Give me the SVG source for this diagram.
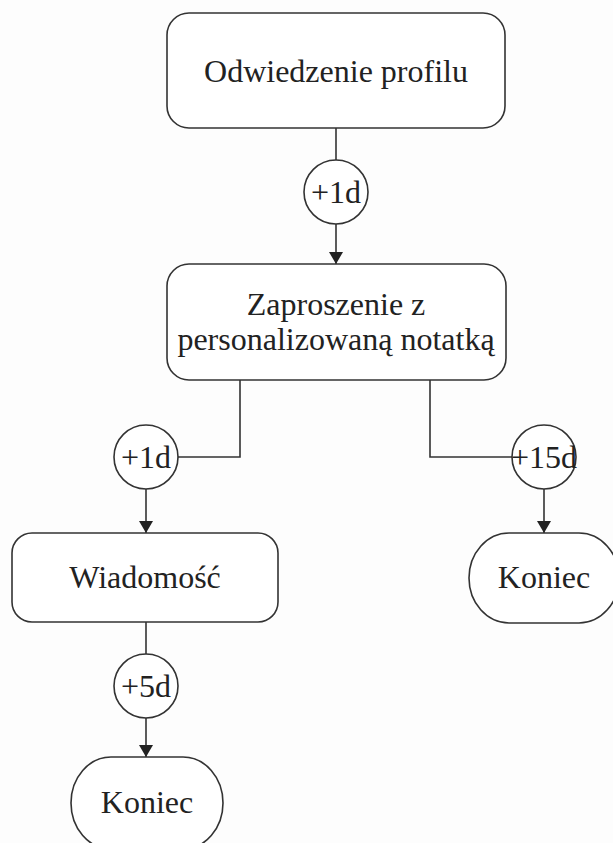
<svg xmlns="http://www.w3.org/2000/svg" width="613" height="843" viewBox="0 0 613 843">
  <style>
    .box { fill: #ffffff; stroke: #333333; stroke-width: 1.6; }
    .wire { fill: none; stroke: #333333; stroke-width: 1.6; }
    .lbl { font-family: 'Liberation Serif', 'Times New Roman', Times, serif; font-size: 32px; fill: #222222; text-anchor: middle; }
  </style>
  <defs>
    <marker id="arrow" viewBox="0 0 12 14" markerWidth="12" markerHeight="14" refX="12" refY="7" orient="auto" markerUnits="userSpaceOnUse">
      <path d="M0,0 L12,7 L0,14 Z" fill="#222222"/>
    </marker>
  </defs>
  <rect width="613" height="843" fill="#fdfdfd"/>

  <!-- connectors -->
  <g id="connectors">
    <line class="wire" x1="336" y1="128" x2="336" y2="160"/>
    <line class="wire" x1="336" y1="224" x2="336" y2="264" marker-end="url(#arrow)"/>
    <polyline class="wire" points="240,380 240,457 178,457"/>
    <polyline class="wire" points="430,380 430,457 512,457"/>
    <line class="wire" x1="146" y1="489" x2="146" y2="533" marker-end="url(#arrow)"/>
    <line class="wire" x1="544" y1="489" x2="544" y2="533" marker-end="url(#arrow)"/>
    <line class="wire" x1="146" y1="622" x2="146" y2="654"/>
    <line class="wire" x1="146" y1="718" x2="146" y2="757" marker-end="url(#arrow)"/>
  </g>

  <g id="visit">
    <rect class="box" x="167" y="13" width="338" height="115" rx="22"/>
    <text class="lbl" font-family="Liberation Serif, serif" x="336" y="82">Odwiedzenie profilu</text>
  </g>

  <g id="delay1">
    <circle class="box" cx="336" cy="192" r="32"/>
    <text class="lbl" x="336" y="203">+1d</text>
  </g>

  <g id="invite">
    <rect class="box" x="167" y="264" width="339" height="116" rx="22"/>
    <text class="lbl" x="336" y="315">Zaproszenie z</text>
    <text class="lbl" x="336" y="350">personalizowaną notatką</text>
  </g>

  <g id="delay2">
    <circle class="box" cx="146" cy="457" r="32"/>
    <text class="lbl" x="146" y="468">+1d</text>
  </g>

  <g id="delay3">
    <circle class="box" cx="544" cy="457" r="32"/>
    <text class="lbl" x="544" y="468">+15d</text>
  </g>

  <g id="message">
    <rect class="box" x="12" y="533" width="266" height="89" rx="20"/>
    <text class="lbl" x="145" y="588">Wiadomość</text>
  </g>

  <g id="end-right">
    <rect class="box" x="469" y="533" width="150" height="90" rx="40" ry="45"/>
    <text class="lbl" x="544" y="588">Koniec</text>
  </g>

  <g id="delay4">
    <circle class="box" cx="146" cy="686" r="32"/>
    <text class="lbl" x="146" y="697">+5d</text>
  </g>

  <g id="end-left">
    <rect class="box" x="71" y="757" width="152" height="92" rx="40" ry="46"/>
    <text class="lbl" x="147" y="813">Koniec</text>
  </g>
</svg>
